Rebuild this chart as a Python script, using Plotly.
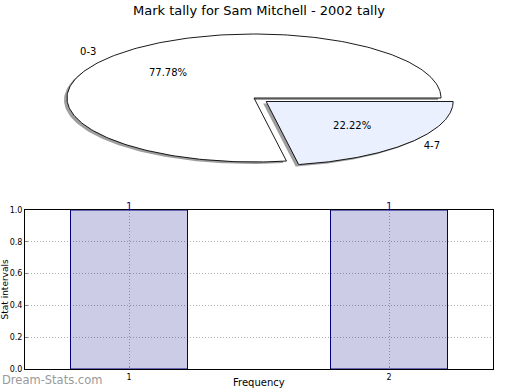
import numpy as np
import plotly.graph_objects as go

# ---- data ----
title_text = "Mark tally for Sam Mitchell - 2002 tally"
pie_labels = ["0-3", "4-7"]
pie_values = [7, 2]
pie_colors = ["#ffffff", "#eaf0fd"]
pie_explode = [0.0, 0.085]

bar_x = [1, 2]
bar_counts = [1, 1]
y_ticks = [0.0, 0.2, 0.4, 0.6, 0.8, 1.0]
x_ticks = [1, 2]

FONT = "DejaVu Sans"
W, H = 520, 390

fig = go.Figure()

# ---- elliptical pie (built from the values) ----
total = float(sum(pie_values))
start = 0.0
shadow_dx, shadow_dy = -0.016, -0.03
for lab, v, col, ex in zip(pie_labels, pie_values, pie_colors, pie_explode):
    frac = v / total
    t1, t2 = start, start + frac * 360.0
    mid = np.radians((t1 + t2) / 2.0)
    ox, oy = ex * np.cos(mid), ex * np.sin(mid)
    th = np.radians(np.linspace(t1, t2, 240))
    xs = np.concatenate([[0.0], np.cos(th), [0.0]]) + ox
    ys = np.concatenate([[0.0], np.sin(th), [0.0]]) + oy
    # shadow
    fig.add_trace(go.Scatter(x=xs + shadow_dx, y=ys + shadow_dy, mode="lines",
                             fill="toself", fillcolor="rgba(0,0,0,0.38)",
                             line=dict(width=0), hoverinfo="skip",
                             showlegend=False, xaxis="x", yaxis="y"))
    # wedge
    fig.add_trace(go.Scatter(x=xs, y=ys, mode="lines", fill="toself",
                             fillcolor=col, line=dict(color="black", width=0.9),
                             hoverinfo="skip", showlegend=False,
                             xaxis="x", yaxis="y"))
    # labels
    lx, ly = 1.1 * np.cos(mid) + ox, 1.1 * np.sin(mid) + oy
    px, py = 0.6 * np.cos(mid) + ox, 0.6 * np.sin(mid) + oy
    fig.add_trace(go.Scatter(x=[lx], y=[ly], mode="text", text=[lab],
                             textposition="middle left" if lx < 0 else "middle right",
                             textfont=dict(family=FONT, size=10, color="black"),
                             hoverinfo="skip", showlegend=False,
                             xaxis="x", yaxis="y", cliponaxis=False))
    fig.add_trace(go.Scatter(x=[px], y=[py], mode="text",
                             text=["%.2f%%" % (frac * 100)],
                             textposition="middle center",
                             textfont=dict(family=FONT, size=10, color="black"),
                             hoverinfo="skip", showlegend=False,
                             xaxis="x", yaxis="y", cliponaxis=False))
    start = t2

# ---- bar chart ----
fig.add_trace(go.Bar(x=bar_x, y=bar_counts, width=0.45,
                     marker=dict(color="rgba(0,0,128,0.2)",
                                 line=dict(color="#000080", width=1)),
                     hoverinfo="skip", showlegend=False,
                     xaxis="x2", yaxis="y2"))

bar_labels = [dict(text=str(c), x=xv, y=c, xref="x2", yref="y2",
                   xanchor="center", yanchor="middle", yshift=4, showarrow=False,
                   font=dict(family=FONT, size=10, color="#000080"))
              for xv, c in zip(bar_x, bar_counts)]

cx, cy, rx, ry = 254.0, 98.0, 187.0, 64.0
top_h = 195.0

fig.update_layout(
    width=W, height=H,
    margin=dict(l=0, r=0, t=0, b=0),
    paper_bgcolor="white", plot_bgcolor="white",
    font=dict(family=FONT, color="black"),
    showlegend=False,
    xaxis=dict(domain=[0, 1], range=[-cx / rx, (W - cx) / rx], visible=False,
               fixedrange=True, automargin=False),
    yaxis=dict(domain=[1 - top_h / H, 1], range=[-(top_h - cy) / ry, cy / ry],
               visible=False, fixedrange=True, automargin=False),
    xaxis2=dict(domain=[25 / W, 493 / W], range=[0.6, 2.4], anchor="y2",
                tickvals=x_ticks, ticktext=[str(t) for t in x_ticks],
                ticks="inside", ticklen=3, tickcolor="#888", automargin=False,
                showline=True, linecolor="black", linewidth=1, mirror=True,
                showgrid=True, gridcolor="#b0b0b0", griddash="1px,2px", gridwidth=1,
                zeroline=False, tickfont=dict(family=FONT, size=8)),
    yaxis2=dict(domain=[21 / H, 180 / H], range=[0, 1], anchor="x2",
                tickvals=y_ticks, tickformat=".1f", automargin=False,
                ticks="inside", ticklen=3, tickcolor="#888",
                showline=True, linecolor="black", linewidth=1, mirror=True,
                showgrid=True, gridcolor="#b0b0b0", griddash="1px,2px", gridwidth=1,
                zeroline=False, tickfont=dict(family=FONT, size=8)),
    annotations=[
        dict(text=title_text, x=259 / W, y=1 - 10 / H, xref="paper", yref="paper",
             xanchor="center", yanchor="middle", showarrow=False,
             font=dict(family=FONT, size=13, color="black")),
        dict(text="Stat intervals", x=4.5 / W, y=1 - 290 / H, xref="paper", yref="paper",
             xanchor="center", yanchor="middle", textangle=-90, showarrow=False,
             font=dict(family=FONT, size=9, color="black")),
        dict(text="Frequency", x=259 / W, y=0, xref="paper", yref="paper",
             xanchor="center", yanchor="bottom", showarrow=False,
             font=dict(family=FONT, size=10, color="black")),
        dict(text="Dream-Stats.com", x=0, y=1 - 380 / H, xref="paper", yref="paper",
             xanchor="left", yanchor="middle", showarrow=False,
             font=dict(family=FONT, size=11.5, color="#9a9a9a")),
    ] + bar_labels,
)

fig.write_html("out.html", config={"displayModeBar": False},
               post_script="document.body.style.margin='0';document.body.style.padding='0';")
